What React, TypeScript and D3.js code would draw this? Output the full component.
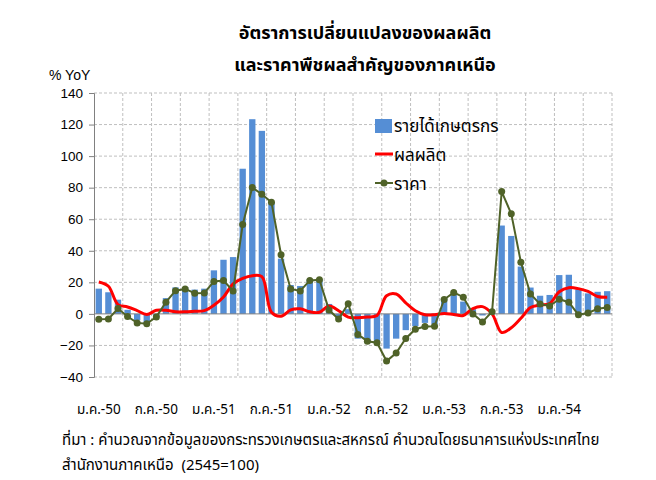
import { useEffect, useRef } from 'react'
import * as d3 from 'd3'

const thaiMonths = ['ม.ค.', 'ก.พ.', 'มี.ค.', 'เม.ย.', 'พ.ค.', 'มิ.ย.', 'ก.ค.', 'ส.ค.', 'ก.ย.', 'ต.ค.', 'พ.ย.', 'ธ.ค.']
const years = ['50', '51', '52', '53', '54']
const monthCount = 54
const categories = years.flatMap(y => thaiMonths.map(m => `${m}-${y}`)).slice(0, monthCount)

// รายได้เกษตรกร (bars)
const income = [
  16, 13.7, 9, 2.6, -4, -6, -2, 10, 16.8, 17, 15.4, 16,
  27.6, 34.3, 36, 92, 123.4, 116, 71, 35, 18.3, 17.7, 22, 22,
  6.3, -2, 3, -15.7, -18.5, -18, -22, -15.7, -10.3, -7.8, -5.7, -6.7,
  10, 12.5, 7.8, 3, -1, 0.5, 56, 49.4, 30, 16.7, 11.5, 12,
  24.6, 24.8, 15.4, 13, 14, 14.4,
]

// ผลผลิต (red line)
const production = [
  20.2, 17.5, 5.9, 4.4, 2.1, -0.4, 2.3, 2.3, 1.3, 1.3, 1.7, 2.1,
  5.5, 10.7, 19, 22.5, 24.2, 23.6, 1, -1.5, 2.5, 3.2, 1.3, 1,
  5, 2, -2, -2.5, -2, -1, 11.5, 12.6, 7, 2, -0.5, -0.5,
  0.3, -0.4, -1, 3.4, 4.6, 0, -11.8, -8.8, -2.8, 4, 5.6, 6.6,
  14, 16.6, 16, 14.2, 11, 10.5,
]

// ราคา (green line with markers)
const price = [
  -3.4, -3.2, 3.4, -1.7, -5.7, -6.3, -1.9, 7.4, 14.7, 15.8, 13.1, 13.3,
  20.6, 21.1, 14.5, 56.6, 80.1, 75.8, 70.7, 37.5, 15.8, 14.5, 21.2, 21.6,
  2.4, -3.3, 6.5, -13, -17.3, -18.3, -29.9, -24.8, -15.6, -9.7, -8, -7.8,
  9.1, 13.6, 10.6, 0, -5.1, 1.4, 77.5, 63.4, 32.8, 12.6, 6.2, 5,
  9.3, 7.4, -0.6, 0.6, 3.2, 4,
]

const yTicks = [-40, -20, 0, 20, 40, 60, 80, 100, 120, 140]
const xTickLabels = ['ม.ค.-50', 'ก.ค.-50', 'ม.ค.-51', 'ก.ค.-51', 'ม.ค.-52', 'ก.ค.-52', 'ม.ค.-53', 'ก.ค.-53', 'ม.ค.-54']
const titleLines = ['อัตราการเปลี่ยนแปลงของผลผลิต', 'และราคาพืชผลสำคัญของภาคเหนือ']
const sourceLines = [
  'ที่มา : คำนวณจากข้อมูลของกระทรวงเกษตรและสหกรณ์ คำนวณโดยธนาคารแห่งประเทศไทย',
  'สำนักงานภาคเหนือ  (2545=100)',
]
const legendNames = ['รายได้เกษตรกร', 'ผลผลิต', 'ราคา']

const W = 656
const H = 480
const BAR = '#558ED5'
const RED = '#FF0000'
const GREEN = '#4F6228'
const THAI = "Tahoma, 'Noto Sans Thai', 'Noto Sans', 'DejaVu Sans', sans-serif"
const LATIN = "Arial, 'Liberation Sans', sans-serif"

export default function App() {
  const svgRef = useRef<SVGSVGElement>(null)

  useEffect(() => {
    if (!svgRef.current) return
    const margin = { top: 93, right: 44, bottom: 103, left: 94 }
    const innerW = W - margin.left - margin.right
    const innerH = H - margin.top - margin.bottom

    const svg = d3.select(svgRef.current)
    svg.selectAll('*').remove()
    svg.append('rect').attr('width', W).attr('height', H).attr('fill', '#fff')

    const g = svg.append('g').attr('transform', `translate(${margin.left},${margin.top})`)

    const x = d3.scaleBand<string>().domain(categories).range([0, innerW]).paddingInner(0.34).paddingOuter(0.17)
    const step = x.step()
    const cx = (c: string) => x(c)! + x.bandwidth() / 2
    const y = d3.scaleLinear().domain([-40, 140]).range([innerH, 0])

    // grid (dashed, every 20 and every quarter)
    g.append('g').selectAll('line').data(yTicks.filter(t => t !== 0)).join('line')
      .attr('x1', 0).attr('x2', innerW).attr('y1', d => y(d)).attr('y2', d => y(d))
      .attr('stroke', '#BFBFBF').attr('stroke-dasharray', '3,2')
    const vIdx = d3.range(3, monthCount + 1, 3)
    g.append('g').selectAll('line').data(vIdx).join('line')
      .attr('x1', d => d * step).attr('x2', d => d * step).attr('y1', 0).attr('y2', innerH)
      .attr('stroke', '#BFBFBF').attr('stroke-dasharray', '3,2')

    // bars
    g.append('g').selectAll('rect').data(income).join('rect')
      .attr('x', (_, i) => x(categories[i])!)
      .attr('width', x.bandwidth())
      .attr('y', d => y(Math.max(0, d)))
      .attr('height', d => Math.abs(y(d) - y(0)))
      .attr('fill', BAR)

    // zero line + y axis
    g.append('line').attr('x1', 0).attr('x2', innerW).attr('y1', y(0)).attr('y2', y(0))
      .attr('stroke', '#808080').attr('stroke-width', 1)
    const yAxis = g.append('g')
      .call(d3.axisLeft(y).tickValues(yTicks).tickSize(5).tickPadding(6).tickFormat(d3.format('d')))
    yAxis.select('.domain').attr('stroke', '#808080')
    yAxis.selectAll('line').attr('stroke', '#808080')
    yAxis.selectAll('text').attr('fill', '#000').attr('font-size', '13.5px').attr('font-family', LATIN)

    // production line (smoothed)
    const smooth = d3.line<number>()
      .x((_, i) => cx(categories[i]))
      .y(d => y(d))
      .curve(d3.curveCatmullRom.alpha(0.5))
    g.append('path').datum(production)
      .attr('fill', 'none').attr('stroke', RED).attr('stroke-width', 3).attr('d', smooth)

    // price line with markers
    const straight = d3.line<number>()
      .x((_, i) => cx(categories[i]))
      .y(d => y(d))
    g.append('path').datum(price)
      .attr('fill', 'none').attr('stroke', GREEN).attr('stroke-width', 2).attr('d', straight)
    g.append('g').selectAll('circle').data(price).join('circle')
      .attr('cx', (_, i) => cx(categories[i])).attr('cy', d => y(d)).attr('r', 3.5)
      .attr('fill', GREEN)

    // x labels
    g.append('g').selectAll('text').data(xTickLabels).join('text')
      .attr('x', d => cx(d)).attr('y', innerH + 37)
      .attr('text-anchor', 'middle').attr('font-size', '13.5px').attr('font-family', THAI)
      .text(d => d)

    // legend
    const lg = svg.append('g').attr('transform', 'translate(375,0)')
    lg.append('rect').attr('x', 0).attr('y', 119).attr('width', 17).attr('height', 14).attr('fill', BAR)
    lg.append('line').attr('x1', 0).attr('x2', 18).attr('y1', 154).attr('y2', 154).attr('stroke', RED).attr('stroke-width', 3)
    lg.append('line').attr('x1', 0).attr('x2', 18).attr('y1', 183).attr('y2', 183).attr('stroke', GREEN).attr('stroke-width', 2)
    lg.append('circle').attr('cx', 9).attr('cy', 183).attr('r', 3.5).attr('fill', GREEN)
    lg.selectAll('text.lgt').data(legendNames).join('text').attr('class', 'lgt')
      .attr('x', 19).attr('y', (_, i) => 126 + i * 29).attr('dy', '0.35em')
      .attr('font-size', '17px').attr('font-family', THAI).text(d => d)

    // titles
    svg.append('g').selectAll('text').data(titleLines).join('text')
      .attr('x', 365).attr('y', (_, i) => 39 + i * 32)
      .attr('text-anchor', 'middle').attr('font-size', '18px').attr('font-weight', 'bold')
      .attr('font-family', THAI).text(d => d)

    svg.append('text').attr('x', 49).attr('y', 80).attr('font-size', '14px')
      .attr('font-family', LATIN).text('% YoY')

    svg.append('g').selectAll('text').data(sourceLines).join('text')
      .attr('x', 62).attr('y', (_, i) => 445 + i * 25)
      .style('white-space', 'pre')
      .attr('font-size', '15px').attr('font-family', THAI).text(d => d)
  }, [])

  return (
    <svg ref={svgRef} width={W} height={H} style={{ position: 'absolute', left: 0, top: 0 }} />
  )
}
